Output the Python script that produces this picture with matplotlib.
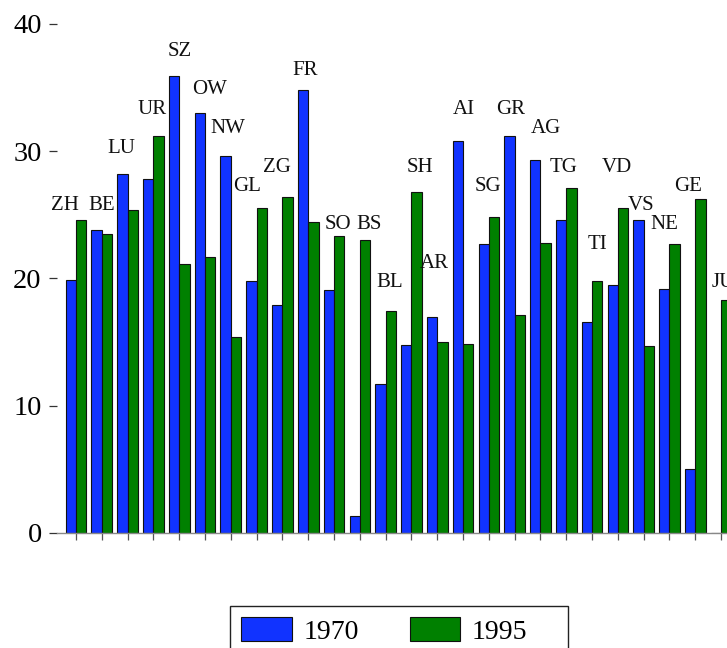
import numpy as np
import matplotlib
matplotlib.use("Agg")
import matplotlib.pyplot as plt
from matplotlib.patches import Rectangle

cantons = ["ZH", "BE", "LU", "UR", "SZ", "OW", "NW", "GL", "ZG", "FR", "SO", "BS", "BL",
           "SH", "AR", "AI", "SG", "GR", "AG", "TG", "TI", "VD", "VS", "NE", "GE", "JU"]
v1970 = [19.9, 23.8, 28.2, 27.8, 35.9, 33.0, 29.6, 19.8, 17.9, 34.8, 19.1, 1.3, 11.7,
         14.8, 17.0, 30.8, 22.7, 31.2, 29.3, 24.6, 16.6, 19.5, 24.6, 19.2, 5.0, 0.0]
v1995 = [24.6, 23.5, 25.4, 31.2, 21.1, 21.7, 15.4, 25.5, 26.4, 24.4, 23.3, 23.0, 17.4,
         26.8, 15.0, 14.85, 24.85, 17.1, 22.8, 27.1, 19.8, 25.5, 14.7, 22.7, 26.2, 18.3]
years = ["1970", "1995"]

# label placement (offset from group centre, height of label centre)
label_dx = [-0.41, 0.01, -0.23, -0.07, 0.03, 0.16, -0.11, -0.37, -0.22, -0.12, 0.16, 0.36, 0.17,
            0.32, -0.10, 0.04, -0.05, -0.14, 0.22, -0.10, 0.21, -0.04, -0.10, -0.19, -0.26, 0.08]
label_y = [25.7, 25.7, 30.24, 33.27, 37.86, 34.8, 31.8, 27.2, 28.7, 36.3, 24.2, 24.2, 19.7,
           28.7, 21.15, 33.27, 27.2, 33.27, 31.8, 28.7, 22.7, 28.7, 25.7, 24.2, 27.2, 19.7]

plt.rcParams["font.family"] = ["Liberation Serif", "DejaVu Serif"]

W, H = 727, 648
fig = plt.figure(figsize=(W / 100, H / 100), dpi=100)
ax = fig.add_axes([57 / W, 1 - 533 / H, 1 - 57 / W, 533 / H])

x = np.arange(len(cantons))
bw = 0.4
b1 = ax.bar(x - bw / 2, v1970, bw, color="#1133ff", edgecolor="#111111", linewidth=0.8)
b2 = ax.bar(x + bw / 2, v1995, bw, color="#008000", edgecolor="#111111", linewidth=0.8)

for i, name in enumerate(cantons):
    ax.text(x[i] + label_dx[i], label_y[i], name, ha="center", va="center",
            fontsize=15, color="#111111")

ax.set_xlim(-0.736, 25.23)
ax.set_ylim(0, 533 / 12.73)
ax.set_yticks([0, 10, 20, 30, 40])
ax.set_xticks(x)
ax.set_xticklabels([])
ax.tick_params(axis="y", length=6, width=0.9, pad=5, labelsize=20.5, color="#333333")
ax.tick_params(axis="x", length=5, width=0.9, color="#555555")
for s in ["top", "right", "left"]:
    ax.spines[s].set_visible(False)
ax.spines["bottom"].set_color("#888888")
ax.spines["bottom"].set_linewidth(1.0)

# legend box runs off the bottom of the figure, as in the original
fig.patches.append(Rectangle((230 / W, -0.1), (567.7 - 230) / W, 1 - 606 / H + 0.1,
                             transform=fig.transFigure, fill=False,
                             edgecolor="#222222", linewidth=1.0))
leg = fig.legend([b1, b2], years, loc="upper left",
                 bbox_to_anchor=(230 / W, 1 - 606 / H), ncol=2, fontsize=20,
                 frameon=False, borderaxespad=0, borderpad=0.4,
                 handlelength=1.82, handleheight=0.94, columnspacing=1.83,
                 handletextpad=0.42)

fig.savefig("out.png", dpi=100)
